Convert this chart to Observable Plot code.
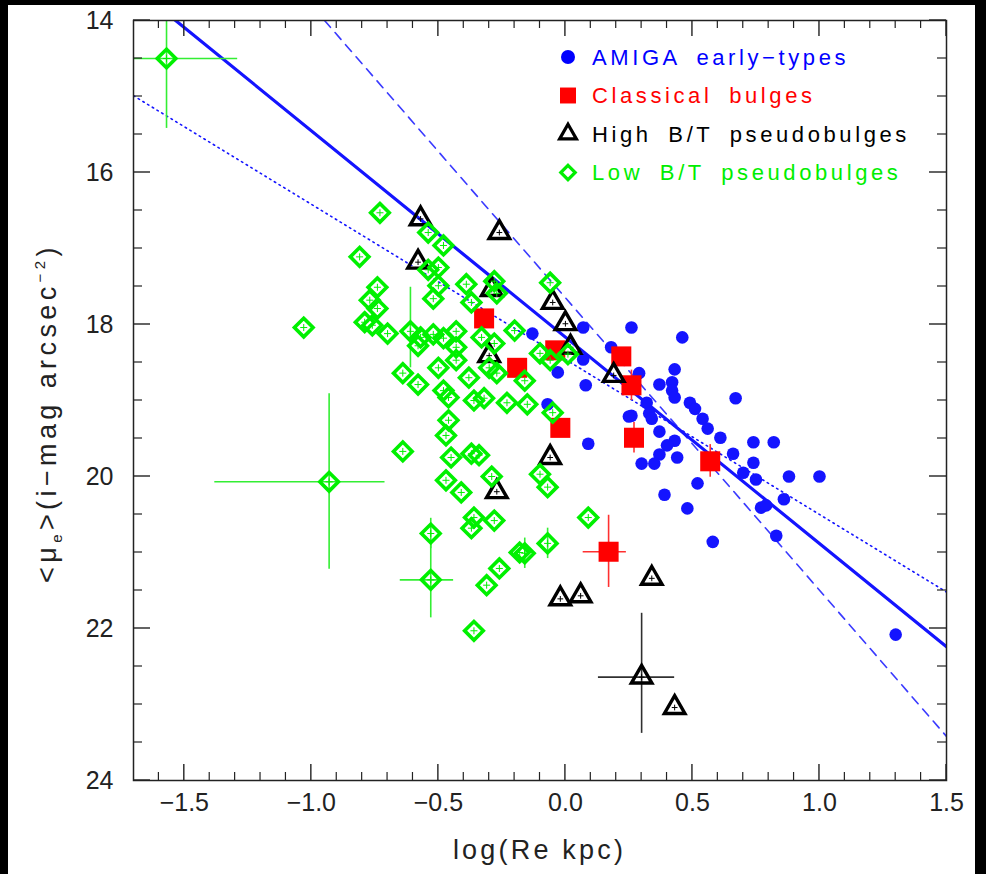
<!DOCTYPE html>
<html><head><meta charset="utf-8">
<script src="https://cdn.jsdelivr.net/npm/d3@7"></script>
<script src="https://cdn.jsdelivr.net/npm/@observablehq/plot@0.6"></script>
<style>
html,body{margin:0;padding:0;background:#000;width:986px;height:874px;overflow:hidden;}
#panel{position:absolute;left:8px;top:5px;width:967px;height:869px;background:#fff;}
</style></head><body><div id="panel"></div>
<script>
// ---- AMIGA early-types (blue circles)
const amigaX = [-0.13,0.07,0.26,0.46,-0.03,0.08,0.07,0.18,-0.07,0.09,0.26,0.29,0.37,0.42,0.43,0.42,0.43,0.67,0.32,0.49,0.51,0.33,0.34,0.25,0.54,0.56,0.37,0.61,0.43,0.40,0.74,0.82,0.37,0.44,0.30,0.35,0.66,0.74,0.70,0.75,0.88,1.00,0.52,0.86,0.39,0.48,0.77,0.79,0.83,0.58,1.30];
const amigaY = [18.12,18.04,18.04,18.17,18.63,18.80,18.46,18.30,19.05,19.57,19.20,18.64,18.79,18.76,18.59,18.87,18.96,18.97,19.03,19.03,19.11,19.17,19.24,19.21,19.24,19.37,19.41,19.49,19.53,19.59,19.55,19.55,19.71,19.75,19.83,19.83,19.70,19.82,19.95,20.04,20.00,20.00,20.09,20.30,20.24,20.42,20.41,20.38,20.78,20.86,22.08];
// ---- Classical bulges (red squares)
const classX = [-0.32,-0.19,-0.04,-0.02,0.22,0.26,0.27,0.57,0.17];
const classY = [17.92,18.57,18.34,19.36,18.42,18.80,19.49,19.80,20.99];
// ---- High B/T pseudobulges (black triangles)
const highX = [-0.57,-0.26,-0.58,-0.29,-0.30,-0.05,0.00,0.02,0.19,-0.06,-0.27,-0.02,0.06,0.34,0.30,0.43];
const highY = [16.61,16.79,17.18,17.54,18.41,17.71,17.99,18.30,18.67,19.75,20.20,21.61,21.57,21.34,22.64,23.04];
// ---- Low B/T pseudobulges (green diamonds)
const lowX = [-1.57,-0.73,-0.54,-0.48,-0.81,-0.54,-0.50,-0.50,-0.39,-0.28,-0.27,-0.74,-0.52,-0.37,-0.77,-0.74,-1.03,-0.79,-0.76,-0.70,-0.61,-0.58,-0.57,-0.52,-0.48,-0.43,-0.43,-0.33,-0.20,-0.28,-0.50,-0.43,-0.64,-0.58,-0.48,-0.46,-0.38,-0.36,-0.32,-0.30,-0.27,-0.23,-0.15,-0.06,-0.10,-0.06,0.01,-0.16,-0.05,-0.46,-0.47,-0.45,-0.37,-0.34,-0.64,-0.47,-0.41,-0.29,-0.10,-0.07,-0.36,-0.37,-0.28,-0.18,-0.26,-0.31,-0.53,-0.53,-0.36,-0.93,-0.16,-0.07,0.09];
const lowY = [14.50,16.53,16.79,16.96,17.11,17.28,17.25,17.49,17.47,17.43,17.59,17.51,17.66,17.71,17.68,17.79,18.04,17.97,18.01,18.12,18.09,18.28,18.17,18.13,18.18,18.09,18.30,18.17,18.08,18.25,18.57,18.47,18.64,18.79,18.87,18.96,18.70,19.00,18.97,18.57,18.64,19.03,19.05,17.45,18.38,18.47,18.39,18.74,19.16,19.26,19.46,19.75,19.70,19.72,19.67,20.05,20.21,20.00,19.97,20.14,20.54,20.68,20.58,21.00,21.21,21.43,20.75,21.36,22.03,20.07,21.01,20.88,20.54];
// ---- error bars
const lowErrX   = [-1.57,-0.93,-0.61,-0.53,-0.53,-0.16,-0.07];
const lowErrY   = [14.50,20.07,18.09,20.75,21.36,21.01,20.88];
const lowErrXlo = [-1.95,-1.38,-0.61,-0.53,-0.65,-0.16,-0.07];
const lowErrXhi = [-1.29,-0.71,-0.61,-0.53,-0.44,-0.16,-0.07];
const lowErrYlo = [13.58,18.91,17.51,20.55,20.86,20.81,20.68];
const lowErrYhi = [15.42,21.22,18.57,20.95,21.86,21.21,21.08];
const classErrX   = [0.17,0.57,0.26,0.27];
const classErrY   = [20.99,19.80,18.80,19.49];
const classErrXlo = [0.07,0.54,0.26,0.27];
const classErrXhi = [0.24,0.60,0.26,0.27];
const classErrYlo = [20.51,19.58,18.60,19.29];
const classErrYhi = [21.46,20.01,19.00,19.69];
const highErrX   = [0.30];
const highErrY   = [22.64];
const highErrXlo = [0.13];
const highErrXhi = [0.43];
const highErrYlo = [21.80];
const highErrYhi = [23.38];
// ---- fitted relations (end points)
const fitSolidX = [-1.7, 1.5],  fitSolidY = [13.55, 22.24];
const fitDashX  = [-0.948, 1.5], fitDashY  = [14.0, 23.42];
const fitDotX   = [-1.7, 1.5],  fitDotY   = [14.99, 21.52];
// ---- ticks
const xTicks = [-1.5,-1.0,-0.5,0.0,0.5,1.0,1.5];
const yTicks = [14,16,18,20,22,24];
const xMinor = d3.range(-16, 15).map(i => i/10).filter(v => !xTicks.some(t => Math.abs(t - v) < 1e-9));
const yMinor = d3.range(29, 48).map(i => i/2).filter(v => v % 2 !== 0);
// ---- legend
const legendLabels = ["AMIGA early\u2212types","Classical bulges","High B/T pseudobulges","Low B/T pseudobulges"];
const legendColors = ["#0000ff","#ff0000","#000000","#00ee00"];
const legendSymbols = ["circle","square","triangle2","diamond2"];

const zip = (xs, ys) => xs.map((x, i) => ({x, y: ys[i]}));
const errs = (xs, ys, xlo, xhi, ylo, yhi) => xs.map((x, i) => ({x, y: ys[i], xlo: xlo[i], xhi: xhi[i], ylo: ylo[i], yhi: yhi[i]}));
const amiga = zip(amigaX, amigaY), classical = zip(classX, classY), high = zip(highX, highY), low = zip(lowX, lowY);
const lowErr = errs(lowErrX, lowErrY, lowErrXlo, lowErrXhi, lowErrYlo, lowErrYhi);
const classErr = errs(classErrX, classErrY, classErrXlo, classErrXhi, classErrYlo, classErrYhi);
const highErr = errs(highErrX, highErrY, highErrXlo, highErrXhi, highErrYlo, highErrYhi);

const W = 967, H = 869, mL = 125, mR = 29, mT = 15, mB = 94;
const iW = W - mL - mR, iH = H - mT - mB;
const XD = [-1.7, 1.5], YD = [24, 14];
const BLUE = "#1414ff", RED = "#ff0000", GREEN = "#00f000", AX = "#222";
const FONT = "'Liberation Sans', Arial, sans-serif";

const errMarks = (d, color) => [
  Plot.ruleY(d, {y: "y", x1: "xlo", x2: "xhi", stroke: color, strokeWidth: 1.6, clip: true}),
  Plot.ruleX(d, {x: "x", y1: "ylo", y2: "yhi", stroke: color, strokeWidth: 1.6, clip: true})
];

const svg = Plot.plot({
  width: W, height: H,
  marginLeft: mL, marginRight: mR, marginTop: mT, marginBottom: mB,
  style: {background: "transparent", fontFamily: FONT, color: AX},
  x: {domain: XD, axis: null},
  y: {domain: YD, axis: null},
  marks: [
    Plot.line(zip(fitDotX, fitDotY), {x: "x", y: "y", stroke: BLUE, strokeWidth: 1.6, strokeDasharray: "1.5,4", clip: true}),
    Plot.line(zip(fitDashX, fitDashY), {x: "x", y: "y", stroke: "#3a3aff", strokeWidth: 1.6, strokeDasharray: "9,7", clip: true}),
    Plot.line(zip(fitSolidX, fitSolidY), {x: "x", y: "y", stroke: BLUE, strokeWidth: 3.2, clip: true}),
    Plot.dot(amiga, {x: "x", y: "y", r: 6.3, fill: BLUE, stroke: "none"}),
    ...errMarks(classErr, "#ff3030"),
    Plot.dot(classical, {x: "x", y: "y", symbol: "square", r: 11.3, fill: RED}),
    ...errMarks(highErr, "#303030"),
    Plot.dot(high, {x: "x", y: "y", symbol: "triangle2", r: 9.8, stroke: "#000", strokeWidth: 3.4, fill: "none"}),
    Plot.dot(high, {x: "x", y: "y", symbol: "plus", r: 2, stroke: "#000", strokeWidth: 1}),
    ...errMarks(lowErr, "#33ee33"),
    Plot.dot(low, {x: "x", y: "y", symbol: "diamond2", r: 8.4, stroke: GREEN, strokeWidth: 3.6, fill: "none", clip: true}),
    Plot.dot(low, {x: "x", y: "y", symbol: "plus", r: 2.4, stroke: GREEN, strokeWidth: 1, clip: true}),
    Plot.frame({stroke: AX, strokeWidth: 1.5}),
    Plot.axisX(xTicks, {tickSize: 0, tickPadding: 13, tickFormat: d3.format(".1f"), fontSize: 25, fill: AX, label: null}),
    Plot.axisY(yTicks, {tickSize: 0, tickPadding: 20, tickFormat: d3.format("d"), fontSize: 25, fill: AX, label: null})
  ]
});
svg.style.position = "absolute";
svg.style.left = "0px";
svg.style.top = "0px";
document.getElementById("panel").appendChild(svg);

const s = d3.select(svg);
// inward tick marks on all four sides, positioned by the plot's own scales
const sx = svg.scale("x"), sy = svg.scale("y");
const x0 = sx.apply(XD[0]), x1 = sx.apply(XD[1]), yb = sy.apply(YD[0]), ytp = sy.apply(YD[1]);
const tg = s.append("g").attr("stroke", AX).attr("fill", "none");
const drawX = (vals, len, w) => vals.forEach(v => {
  const px = sx.apply(v);
  tg.append("line").attr("x1", px).attr("x2", px).attr("y1", yb).attr("y2", yb - len).attr("stroke-width", w);
  tg.append("line").attr("x1", px).attr("x2", px).attr("y1", ytp).attr("y2", ytp + len).attr("stroke-width", w);
});
const drawY = (vals, len, w) => vals.forEach(v => {
  const py = sy.apply(v);
  tg.append("line").attr("y1", py).attr("y2", py).attr("x1", x0).attr("x2", x0 + len).attr("stroke-width", w);
  tg.append("line").attr("y1", py).attr("y2", py).attr("x1", x1).attr("x2", x1 - len).attr("stroke-width", w);
});
drawX(xTicks, 16, 1.4); drawX(xMinor, 8, 1.2);
drawY(yTicks, 17, 1.4); drawY(yMinor, 9, 1.2);

// x axis title
s.append("text").attr("x", mL + iW / 2).attr("y", 854).attr("text-anchor", "middle")
  .attr("font-family", FONT).attr("font-size", 27).attr("letter-spacing", 3.2).attr("fill", AX).text("log(Re kpc)");
// y axis title with subscript / superscript
const yt = s.append("text").attr("transform", `translate(48,408) rotate(-90)`)
  .attr("text-anchor", "middle").attr("font-family", FONT).attr("font-size", 27).attr("letter-spacing", 4.4).attr("fill", AX);
yt.append("tspan").text("<\u03bc");
yt.append("tspan").attr("font-size", 15).attr("dy", 6).text("e");
yt.append("tspan").attr("dy", -6).text(">(i\u2212mag arcsec");
yt.append("tspan").attr("font-size", 15).attr("dy", -11).text("\u22122");
yt.append("tspan").attr("dy", 11).text(")");
// legend
const lg = s.append("g").attr("transform", "translate(560,52)");
legendLabels.forEach((label, i) => {
  const g = lg.append("g").attr("transform", `translate(0,${i * 38.5})`);
  const sym = {circle: d3.symbolCircle, square: d3.symbolSquare, triangle2: d3.symbolTriangle2, diamond2: d3.symbolDiamond2}[legendSymbols[i]];
  const filled = i < 2;
  const size = [Math.PI * 7 * 7, Math.PI * 9 * 9, Math.PI * 8 * 8, Math.PI * 6.5 * 6.5][i];
  g.append("path").attr("d", d3.symbol(sym, size)())
    .attr("fill", filled ? legendColors[i] : "none")
    .attr("stroke", filled ? "none" : legendColors[i])
    .attr("stroke-width", filled ? 0 : 3.2);
  g.append("text").attr("x", 24).attr("y", 0).attr("dy", "0.36em").attr("text-anchor", "start")
    .attr("font-family", FONT).attr("font-size", 22).attr("letter-spacing", 3.6).attr("word-spacing", 7)
    .attr("fill", legendColors[i]).text(label);
});
</script>
</body></html>
